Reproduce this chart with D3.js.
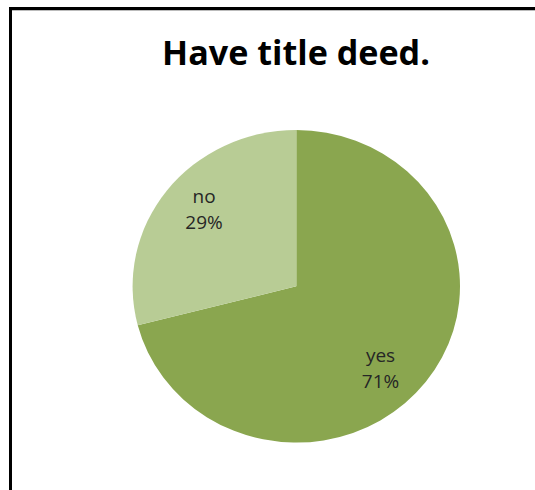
<!DOCTYPE html>
<html>
<head>
<meta charset="utf-8">
<script src="https://cdn.jsdelivr.net/npm/d3@7"></script>
<style>
  body { margin: 0; background: #fff; overflow: hidden; }
  svg { display: block; }
  .title { font-family: "Open Sans", "Liberation Sans", sans-serif; font-weight: bold; fill: #000; }
  .lbl { font-family: "Open Sans", "Liberation Sans", sans-serif; fill: #262626; }
</style>
</head>
<body>
<svg id="chart" width="535" height="490"></svg>
<script>
  // data
  const titleText = 'Have title deed.';
  const categories = ['yes', 'no'];
  const values = [71, 29];
  const colors = ['#8aa64f', '#b8cc95'];

  const width = 535, height = 490;
  const cx = 296.3, cy = 286.3;
  const ry = 156.3, rx = 163.7;
  const squash = rx / ry;
  // Excel places its labels a little off the centroid
  const labelNudge = [[-16, 7], [8, -3]];

  const svg = d3.select('#chart');

  // chart frame (runs off the right and bottom of the picture)
  svg.append('rect')
    .attr('x', 10.5).attr('y', 8.5)
    .attr('width', 700).attr('height', 700)
    .style('fill', 'none')
    .style('stroke', '#000')
    .style('stroke-width', 3);
  svg.append('line')
    .attr('x1', 12).attr('x2', width)
    .attr('y1', 10.5).attr('y2', 10.5)
    .style('stroke', '#bbb').style('stroke-width', 1);

  // title, sized to fit the reference width
  const title = svg.append('text')
    .attr('class', 'title')
    .attr('x', 296).attr('y', 65)
    .attr('text-anchor', 'middle')
    .style('font-size', '30px')
    .text(titleText);
  const tw = title.node().getComputedTextLength();
  title.style('font-size', (30 * 268 / tw) + 'px');

  const data = categories.map((c, i) => ({name: c, value: values[i]}));
  const pie = d3.pie().sort(null).value(d => d.value);
  const arcs = pie(data);
  const arc = d3.arc().innerRadius(0).outerRadius(ry);
  const labelArc = d3.arc().innerRadius(0).outerRadius(ry * 1.55);

  const g = svg.append('g')
    .attr('transform', `translate(${cx},${cy}) scale(${squash},1)`);

  g.selectAll('path')
    .data(arcs)
    .enter().append('path')
    .attr('d', arc)
    .style('fill', (d, i) => colors[i]);

  const total = d3.sum(values);
  const labels = svg.selectAll('.lbl')
    .data(arcs)
    .enter().append('text')
    .attr('class', 'lbl')
    .attr('text-anchor', 'middle')
    .style('font-size', '19px')
    .attr('transform', (d, i) => {
      const c = labelArc.centroid(d);
      return `translate(${cx + c[0] * squash + labelNudge[i][0]},${cy + c[1] + labelNudge[i][1]})`;
    });
  labels.append('tspan')
    .attr('x', 0).attr('y', -6)
    .text(d => d.data.name);
  labels.append('tspan')
    .attr('x', 0).attr('y', 20)
    .text(d => Math.round(d.data.value / total * 100) + '%');
</script>
</body>
</html>
